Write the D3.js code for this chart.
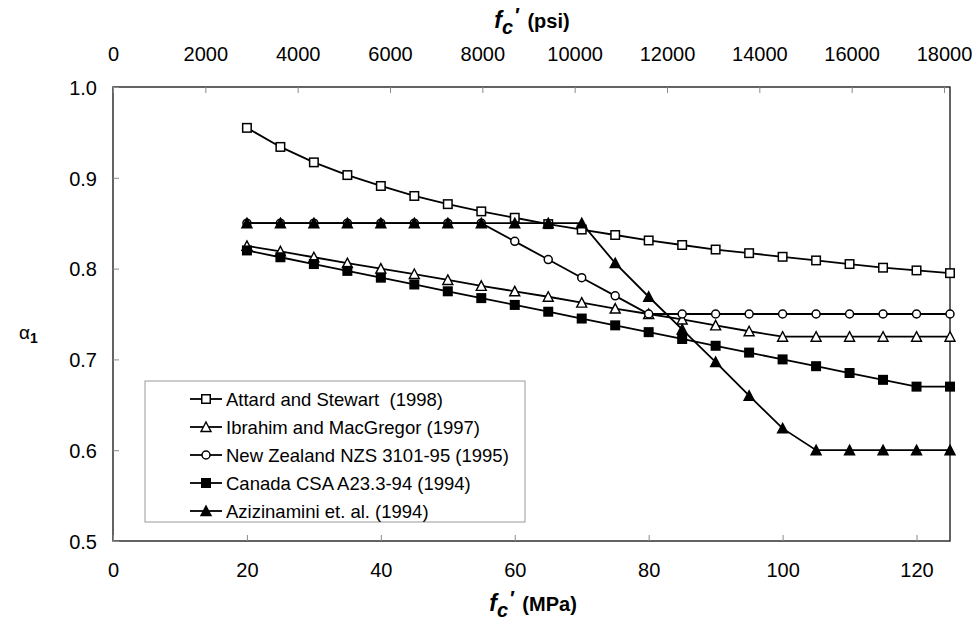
<!DOCTYPE html>
<html><head><meta charset="utf-8">
<script src="https://cdn.jsdelivr.net/npm/d3@7"></script>
<style>
html,body{margin:0;padding:0;background:#fff;}
svg{display:block;font-family:"Liberation Sans",Arial,Helvetica,sans-serif;}
</style></head>
<body>
<svg id="chart" width="977" height="620"></svg>
<script>
// ---- data ----
const fcMPa = [20,25,30,35,40,45,50,55,60,65,70,75,80,85,90,95,100,105,110,115,120,125];
const attard = [0.955,0.934,0.917,0.903,0.891,0.880,0.871,0.863,0.856,0.849,0.843,0.837,0.831,0.826,0.821,0.817,0.813,0.809,0.805,0.801,0.798,0.795];
const ibrahim = [0.825,0.819,0.8125,0.806,0.800,0.794,0.7875,0.781,0.775,0.769,0.7625,0.756,0.750,0.744,0.7375,0.731,0.725,0.725,0.725,0.725,0.725,0.725];
const nzs = [0.85,0.85,0.85,0.85,0.85,0.85,0.85,0.85,0.83,0.81,0.79,0.77,0.75,0.75,0.75,0.75,0.75,0.75,0.75,0.75,0.75,0.75];
const csa = [0.82,0.8125,0.805,0.7975,0.79,0.7825,0.775,0.7675,0.76,0.7525,0.745,0.7375,0.73,0.7225,0.715,0.7075,0.70,0.6925,0.685,0.6775,0.67,0.67];
const azizinamini = [0.85,0.85,0.85,0.85,0.85,0.85,0.85,0.85,0.85,0.85,0.85,0.806,0.769,0.733,0.697,0.660,0.624,0.60,0.60,0.60,0.60,0.60];
const seriesNames = ["Attard and Stewart  (1998)","Ibrahim and MacGregor (1997)","New Zealand NZS 3101-95 (1995)","Canada CSA A23.3-94 (1994)","Azizinamini et. al. (1994)"];
const seriesMarkers = ["squareOpen","triangleOpen","circleOpen","squareFilled","triangleFilled"];
const xTicksMPa = [0,20,40,60,80,100,120];
const xTicksPsi = [0,2000,4000,6000,8000,10000,12000,14000,16000,18000];
const yTicks = [0.5,0.6,0.7,0.8,0.9,1.0];
const PSI_PER_MPA = 145.0377;

const allSeries = [attard, ibrahim, nzs, csa, azizinamini];

const svg = d3.select("#chart");
const L = 113, R = 950, T = 87, B = 541;

const x = d3.scaleLinear().domain([0,125]).range([L,R]);
const xPsi = d3.scaleLinear().domain([0,125*PSI_PER_MPA]).range([L,R]);
const y = d3.scaleLinear().domain([0.5,1.0]).range([B,T]);

const tickColor = "#8a8a8a";
const fs = 20;

// frame
svg.append("rect").attr("x",L).attr("y",T).attr("width",R-L).attr("height",B-T)
  .attr("fill","none").attr("stroke","#222").attr("stroke-width",1.4);

// bottom axis
const gB = svg.append("g").attr("transform",`translate(0,${B})`)
  .call(d3.axisBottom(x).tickValues(xTicksMPa).tickSizeInner(-6).tickSizeOuter(0).tickPadding(22).tickFormat(d3.format("d")));
// top axis
const gT = svg.append("g").attr("transform",`translate(0,${T})`)
  .call(d3.axisTop(xPsi).tickValues(xTicksPsi).tickSizeInner(-6).tickSizeOuter(0).tickPadding(26).tickFormat(d3.format("d")));
// left axis
const gL = svg.append("g").attr("transform",`translate(${L},0)`)
  .call(d3.axisLeft(y).tickValues(yTicks).tickSizeInner(-6).tickSizeOuter(0).tickPadding(16).tickFormat(d3.format(".1f")));

[gB,gT,gL].forEach(g=>{
  g.select(".domain").remove();
  g.selectAll(".tick line").attr("stroke",tickColor).attr("stroke-width",1);
  g.selectAll(".tick text").attr("fill","#000").style("font-size",fs+"px").style("font-family","'Liberation Sans',Arial,sans-serif");
});
gL.selectAll(".tick text").attr("dy","0.36em");

// axis titles
function fcTitle(cx, cy, unit){
  const t = svg.append("text").attr("x",cx).attr("y",cy).attr("text-anchor","middle")
    .style("font-size","20px").style("font-weight","bold");
  t.append("tspan").text("f").style("font-style","italic").style("font-size","23px");
  t.append("tspan").text("c").style("font-style","italic").attr("dy",6).style("font-size","20px");
  t.append("tspan").text("\u2032").style("font-style","italic").attr("dy",-12).attr("dx",1).style("font-size","20px");
  t.append("tspan").text(" (" + unit + ")").attr("dy",6).attr("dx",3);
}
fcTitle(533, 611, "MPa");
fcTitle(532, 28, "psi");

// y title alpha_1
const yt = svg.append("text").attr("x",19).attr("y",339).style("font-size","19px");
yt.append("tspan").text("\u03b1");
yt.append("tspan").text("1").attr("dy",4).style("font-size","14px").style("font-weight","bold");

// markers
function drawMarker(g, type, cx, cy){
  const s = 8.5;
  if(type==="squareOpen"||type==="squareFilled"){
    g.append("rect").attr("x",cx-s/2).attr("y",cy-s/2).attr("width",s).attr("height",s)
      .attr("fill", type==="squareFilled"?"#000":"#fff").attr("stroke","#000").attr("stroke-width",1.5);
  } else if(type==="circleOpen"){
    g.append("circle").attr("cx",cx).attr("cy",cy).attr("r",4)
      .attr("fill","#fff").attr("stroke","#000").attr("stroke-width",1.5);
  } else {
    const h = 9, w = 10;
    g.append("path").attr("d",`M${cx},${cy-h/2-0.5}L${cx+w/2},${cy+h/2}L${cx-w/2},${cy+h/2}Z`)
      .attr("fill", type==="triangleFilled"?"#000":"#fff").attr("stroke","#000").attr("stroke-width",1.4).attr("stroke-linejoin","miter");
  }
}

const line = d3.line().x(d=>x(d[0])).y(d=>y(d[1]));
allSeries.forEach((vals,i)=>{
  const pts = fcMPa.map((f,j)=>[f, vals[j]]);
  const g = svg.append("g");
  g.append("path").attr("d",line(pts)).attr("fill","none").attr("stroke","#000").attr("stroke-width",1.8);
  pts.forEach(p=>drawMarker(g, seriesMarkers[i], x(p[0]), y(p[1])));
});

// legend
const lg = svg.append("g");
lg.append("rect").attr("x",145).attr("y",381).attr("width",380).attr("height",141)
  .attr("fill","#fff").attr("stroke","#9a9a9a").attr("stroke-width",1);
seriesNames.forEach((name,i)=>{
  const cy = 399 + i*28;
  lg.append("line").attr("x1",190).attr("x2",222).attr("y1",cy).attr("y2",cy).attr("stroke","#000").attr("stroke-width",1.8);
  drawMarker(lg, seriesMarkers[i], 206, cy);
  lg.append("text").attr("x",226).attr("y",cy).attr("dy","0.36em").style("font-size","18.5px")
    .style("white-space","pre").attr("xml:space","preserve").text(name);
});
</script>
</body></html>
